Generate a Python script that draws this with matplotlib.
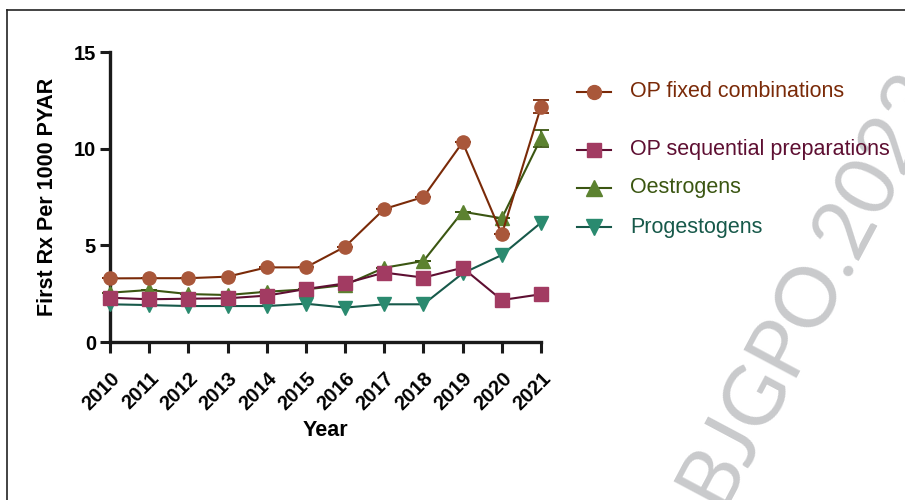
import matplotlib
matplotlib.use("Agg")
import matplotlib.pyplot as plt
from matplotlib.lines import Line2D

plt.rcParams['font.family'] = ['Liberation Sans', 'DejaVu Sans']

years = [2010, 2011, 2012, 2013, 2014, 2015, 2016, 2017, 2018, 2019, 2020, 2021]

op_fixed = [3.29, 3.30, 3.30, 3.38, 3.86, 3.86, 4.93, 6.88, 7.50, 10.33, 5.57, 12.17]
op_fixed_err = [0, 0, 0, 0, 0, 0, 0, 0, 0, 0, 0, 0.35]

op_sequential = [2.29, 2.21, 2.24, 2.26, 2.40, 2.74, 3.03, 3.59, 3.33, 3.84, 2.17, 2.47]

oestrogens = [2.55, 2.69, 2.48, 2.43, 2.60, 2.72, 2.95, 3.84, 4.19, 6.74, 6.40, 10.54]
oestrogens_err = [0, 0, 0, 0, 0, 0, 0, 0, 0, 0, 0, 0.43]

progestogens = [1.95, 1.91, 1.86, 1.86, 1.86, 1.98, 1.78, 1.95, 1.95, 3.55, 4.50, 6.17]

labels = ["OP fixed combinations", "OP sequential preparations",
          "Oestrogens", "Progestogens"]

# marker face colour, line colour, marker shape
styles = {
    "OP fixed combinations": ("#A9573A", "#7A2A08", "o"),
    "OP sequential preparations": ("#A23B62", "#5E0F32", "s"),
    "Oestrogens": ("#5C8230", "#3B5612", "^"),
    "Progestogens": ("#2A8A6F", "#17594A", "v"),
}

fig = plt.figure(figsize=(9.05, 5.0), dpi=100)
ax = fig.add_axes([110 / 905, 158 / 500, 431 / 905, 290 / 500])

series = [
    ("Progestogens", progestogens, None),
    ("Oestrogens", oestrogens, oestrogens_err),
    ("OP sequential preparations", op_sequential, None),
    ("OP fixed combinations", op_fixed, op_fixed_err),
]
for name, vals, err in series:
    face, line, mk = styles[name]
    ms = 10.5 if mk in "^v" else 9.5
    if err is not None:
        ax.errorbar(years, vals, yerr=err, fmt='none', ecolor=line,
                    elinewidth=1.3, capsize=6, capthick=1.3, clip_on=False, zorder=2)
    ax.plot(years, vals, color=line, lw=1.5, marker=mk, ms=ms,
            markerfacecolor=face, markeredgecolor=face, clip_on=False, zorder=3)

ax.set_xlim(2010, 2021)
ax.set_ylim(0, 15)
ax.set_xticks(years)
ax.set_xticklabels([str(y) for y in years], rotation=45, ha='right',
                   rotation_mode='anchor', fontweight='bold', fontsize=14.5)
ax.set_yticks([0, 5, 10, 15])
ax.set_yticklabels(['0', '5', '10', '15'], fontweight='bold', fontsize=14.5)
ax.tick_params(axis='y', direction='out', length=7, width=2.2, color='#1a1a1a', pad=3)
ax.tick_params(axis='x', direction='out', length=8, width=2.2, color='#1a1a1a', pad=11)
for side in ['top', 'right']:
    ax.spines[side].set_visible(False)
for side in ['left', 'bottom']:
    ax.spines[side].set_linewidth(2.4)
    ax.spines[side].set_color('#1a1a1a')
ax.set_ylabel("First Rx Per 1000 PYAR", fontweight='bold', fontsize=15.5, labelpad=11)
ax.set_xlabel("Year", fontweight='bold', fontsize=15.5, labelpad=5)

# legend entries, drawn at fixed rows
rows_y = [92, 150, 188, 227]
text_colors = ["#7A2A08", "#5E0F32", "#3B5612", "#17594A"]
for name, ypx, tc in zip(labels, rows_y, text_colors):
    face, line, mk = styles[name]
    yf = 1 - ypx / 500
    fig.add_artist(Line2D([577 / 905, 611 / 905], [yf, yf], color=line, lw=1.5,
                          transform=fig.transFigure))
    ms = 11 if mk in "^v" else 10
    fig.add_artist(Line2D([594 / 905], [yf], marker=mk, ms=ms, color=face,
                          markeredgecolor=face, lw=0, transform=fig.transFigure))
    fig.text(630 / 905, yf, name, color=tc, fontsize=15.5, va='center', ha='left')

# page frame
fig.add_artist(Line2D([7 / 905, 7 / 905], [0, 1 - 10 / 500], color='#222222', lw=1.2,
                      transform=fig.transFigure))
fig.add_artist(Line2D([7 / 905, 1], [1 - 10 / 500, 1 - 10 / 500], color='#222222', lw=1.2,
                      transform=fig.transFigure))

# watermark
fig.text(720 / 905, 1 - 510 / 500, "BJGPO.2023", color='#C9CACC', fontsize=60,
         rotation=62, rotation_mode='anchor', ha='left', va='baseline',
         family=['Lato', 'DejaVu Sans'], zorder=0)

fig.savefig("out.png", dpi=100)
